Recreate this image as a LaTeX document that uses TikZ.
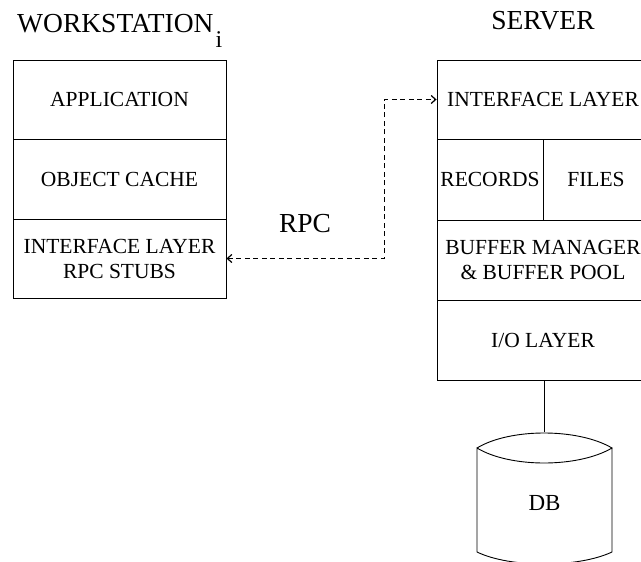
\documentclass[tikz,border=0pt]{standalone}
\usepackage{fontspec}
\setmainfont{Liberation Serif}
\usetikzlibrary{arrows.meta}
\begin{document}
\begin{tikzpicture}[x=1pt,y=-1pt,
  cell/.style={draw,line width=0.9pt,rectangle,inner sep=0pt,align=center,
    font=\fontsize{21.5}{25}\selectfont},
  title/.style={inner sep=0pt,font=\fontsize{27.5}{30}\selectfont},
  rpcline/.style={line width=0.9pt,dash pattern=on 5pt off 3.5pt,
    {Straight Barb[length=4.5pt,width=8pt,line width=1.2pt]}-{Straight Barb[length=4.5pt,width=8pt,line width=1.2pt]}},
  plain/.style={line width=0.9pt}]
\useasboundingbox (0,0) rectangle (641,562);
% workstation
\node[title,anchor=base west] (wstitle) at (17,32)
  {WORKSTATION\kern2pt\raisebox{-15pt}{\fontsize{24}{24}\selectfont i}};
\node[cell,minimum width=213pt,minimum height=79pt] (ws1) at (119.5,99.5) {APPLICATION};
\node[cell,minimum width=213pt,minimum height=80pt] (ws2) at (119.5,179) {OBJECT CACHE};
\node[cell,minimum width=213pt,minimum height=79pt] (ws3) at (119.5,258.5) {INTERFACE LAYER\\RPC STUBS};
% server
\node[title,anchor=base] (srvtitle) at (543,30) {SERVER};
\node[cell,minimum width=212pt,minimum height=79pt] (srv1) at (543,99.5) {INTERFACE LAYER};
\node[cell,minimum width=106pt,minimum height=81pt] (srvrec) at (490,179.5) {RECORDS};
\node[cell,minimum width=106pt,minimum height=81pt] (srvfil) at (596,179.5) {FILES};
\node[cell,minimum width=212pt,minimum height=80pt] (srv3) at (543,260) {BUFFER MANAGER\\\& BUFFER POOL};
\node[cell,minimum width=212pt,minimum height=80pt] (srv4) at (543,340) {I/O LAYER};
% RPC
\node[title,anchor=base] (rpc) at (305,232) {RPC};
\coordinate (bend) at (384,180);
\draw[rpcline] (ws3.east) -| (bend) |- (srv1.west);
% DB
\draw[plain] (477,448) .. controls (510,428) and (578,428) .. (612,448)
  .. controls (578,468) and (510,468) .. (477,448) -- (477,552)
  .. controls (510,568) and (578,568) .. (612,552) -- (612,448);
\node[inner sep=0pt,minimum width=135pt,minimum height=132pt] (db) at (544.5,498) {};
\node[inner sep=0pt,anchor=base,font=\fontsize{23}{26}\selectfont] (dblabel) at (544.5,510) {DB};
\draw[plain] (srv4.south -| db.north) -- (db.north);
\end{tikzpicture}
\end{document}
